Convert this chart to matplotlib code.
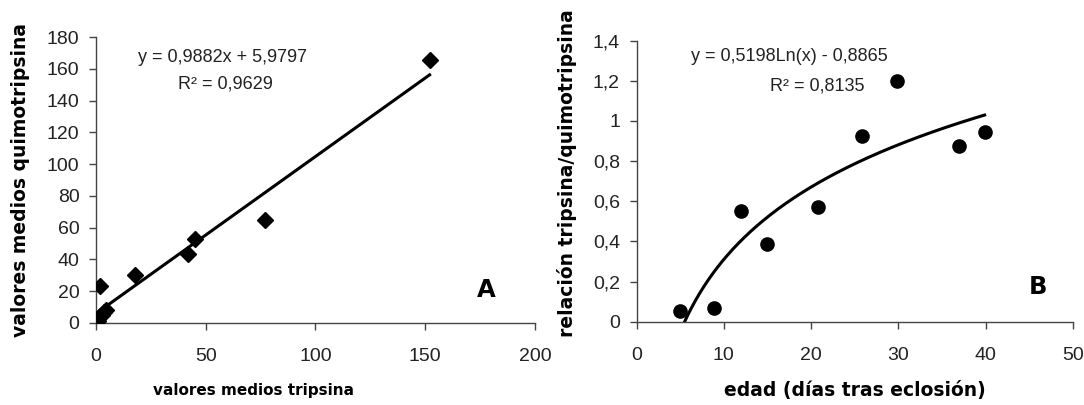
import numpy as np
import matplotlib
matplotlib.use("Agg")
import matplotlib.pyplot as plt

# Panel A data
tripsina = [0.0, 0.3, 1.0, 1.5, 2.5, 3.5, 4.5, 1.8, 17.8, 42.0, 45.1, 77.0, 152.0]
quimotripsina = [0.0, 2.0, 1.0, 4.0, 5.0, 7.0, 8.0, 23.5, 30.5, 43.5, 52.8, 64.8, 165.5]
slope_a, intercept_a = 0.9882, 5.9797

# Panel B data
edad = [5.0, 8.9, 12.0, 14.9, 20.8, 25.8, 29.8, 37.0, 39.9]
relacion = [0.055, 0.07, 0.55, 0.385, 0.57, 0.925, 1.2, 0.875, 0.945]
coef_b, const_b = 0.5198, -0.8865

font = "Liberation Sans"
lab_font = "DejaVu Sans"
tick_col = "#222222"
spine_col = "#444444"

fig = plt.figure(figsize=(10.84, 4.05), dpi=100)
axA = fig.add_axes([0.0886, 0.2025, 0.4049, 0.7061])
axB = fig.add_axes([0.5873, 0.2057, 0.4023, 0.6938])

for ax in (axA, axB):
    for s in ("top", "right"):
        ax.spines[s].set_visible(False)
    for s in ("left", "bottom"):
        ax.spines[s].set_linewidth(1.0)
        ax.spines[s].set_color(spine_col)
    ax.tick_params(direction="out", length=5, width=1, color=spine_col,
                   labelcolor=tick_col)
    ax.tick_params(axis="x", pad=13)
    ax.tick_params(axis="y", pad=7)

# Panel A
axA.plot(tripsina, quimotripsina, linestyle="none", marker="D", markersize=8.5,
         color="black", zorder=3)
xl = np.array([0.0, max(tripsina)])
axA.plot(xl, slope_a * xl + intercept_a, color="black", lw=2.2, zorder=2)
axA.set_xlim(0, 200)
axA.set_ylim(0, 180)
axA.set_xticks([0, 50, 100, 150, 200])
axA.set_yticks(range(0, 181, 20))
axA.set_xticklabels([str(v) for v in [0, 50, 100, 150, 200]], family=font, fontsize=14)
axA.set_yticklabels([str(v) for v in range(0, 181, 20)], family=font, fontsize=14)
axA.set_xlabel("valores medios tripsina", family=lab_font, fontweight="bold",
               fontsize=11)
axA.xaxis.set_label_coords(0.358, -0.21)
axA.set_ylabel("valores medios quimotripsina", family=lab_font, fontweight="bold",
               fontsize=13.5)
axA.yaxis.set_label_coords(-0.150, 0.50)
axA.text(57.4, 167.4, "y = 0,9882x + 5,9797", family=font, fontsize=13, ha="center",
         va="center", color=tick_col)
axA.text(58.8, 150.4, "R² = 0,9629", family=font, fontsize=13, ha="center",
         va="center", color=tick_col)
axA.text(178, 20.5, "A", family=lab_font, fontweight="bold", fontsize=17.5,
         ha="center", va="center")

# Panel B
axB.plot(edad, relacion, linestyle="none", marker="o", markersize=9.5,
         color="black", zorder=3)
xc = np.linspace(np.exp(-const_b / coef_b), max(edad), 200)
axB.plot(xc, coef_b * np.log(xc) + const_b, color="black", lw=2.2, zorder=2)
axB.set_xlim(0, 50)
axB.set_ylim(0, 1.4)
axB.set_xticks(range(0, 51, 10))
axB.set_yticks([0, 0.2, 0.4, 0.6, 0.8, 1.0, 1.2, 1.4])
axB.set_xticklabels([str(v) for v in range(0, 51, 10)], family=font, fontsize=14)
axB.set_yticklabels(["0", "0,2", "0,4", "0,6", "0,8", "1", "1,2", "1,4"],
                    family=font, fontsize=14)
axB.set_xlabel("edad (días tras eclosión)", family=lab_font, fontweight="bold",
               fontsize=13.5)
axB.xaxis.set_label_coords(0.50, -0.211)
axB.set_ylabel("relación tripsina/quimotripsina", family=lab_font, fontweight="bold",
               fontsize=13.5)
axB.yaxis.set_label_coords(-0.137, 0.527)
axB.text(17.5, 1.319, "y = 0,5198Ln(x) - 0,8865", family=font, fontsize=13,
         ha="center", va="center", color=tick_col)
axB.text(20.7, 1.175, "R² = 0,8135", family=font, fontsize=13, ha="center",
         va="center", color=tick_col)
axB.text(46, 0.175, "B", family=lab_font, fontweight="bold", fontsize=17.5,
         ha="center", va="center")

fig.savefig("out.png", dpi=100)
